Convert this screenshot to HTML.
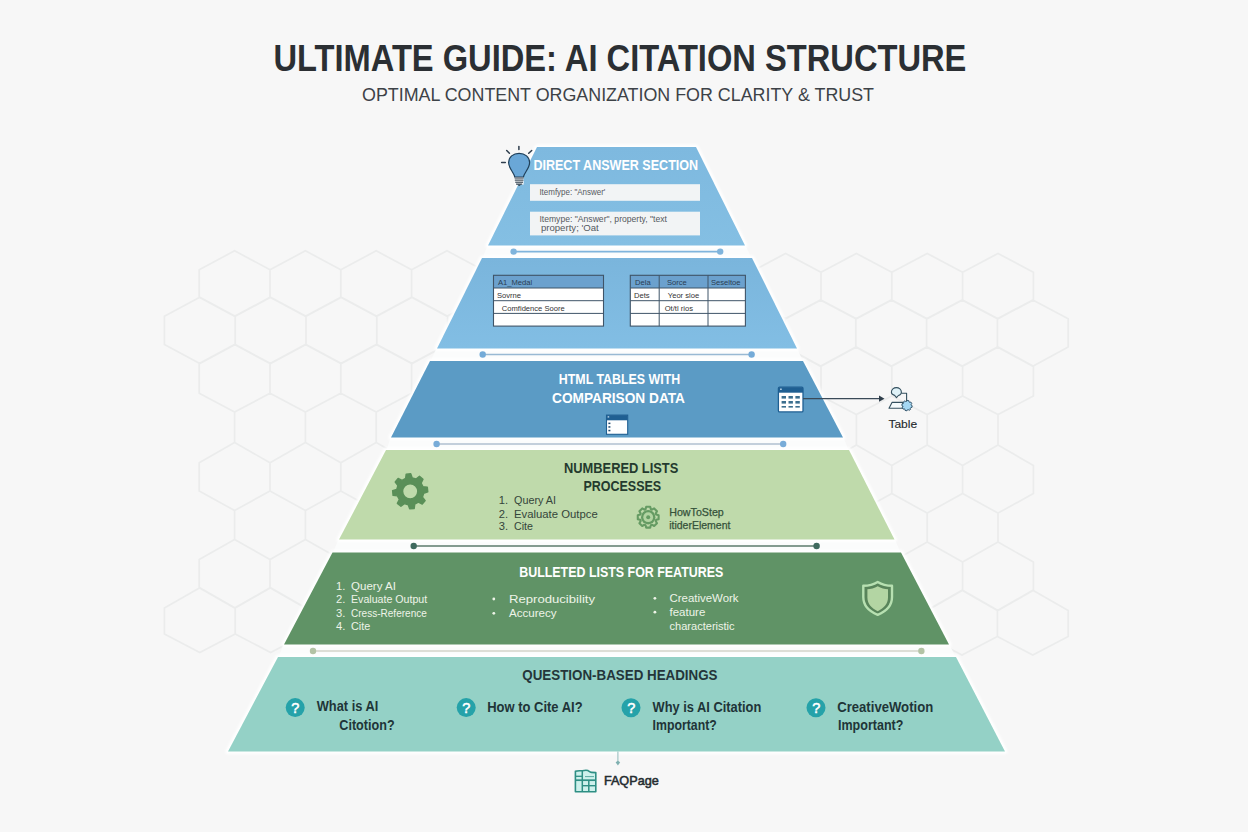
<!DOCTYPE html>
<html><head><meta charset="utf-8"><title>Ultimate Guide: AI Citation Structure</title>
<style>
html,body{margin:0;padding:0;background:#f7f7f7;}
body{width:1248px;height:832px;overflow:hidden;font-family:"Liberation Sans", sans-serif;}
svg{display:block;}
text{font-family:"Liberation Sans", sans-serif;}
</style></head><body>
<svg width="1248" height="832" viewBox="0 0 1248 832">
<defs>
<linearGradient id="g1" x1="0" y1="0" x2="0" y2="1">
<stop offset="0" stop-color="#7eb9df"/><stop offset="1" stop-color="#84bfe3"/></linearGradient>
<linearGradient id="g2" x1="0" y1="0" x2="0" y2="1">
<stop offset="0" stop-color="#7ab5dc"/><stop offset="1" stop-color="#82bee4"/></linearGradient>
<filter id="glow" x="-10%" y="-10%" width="120%" height="120%"><feGaussianBlur stdDeviation="1.2"/></filter>
</defs>
<rect width="1248" height="832" fill="#f7f7f7"/>
<path d="M234.6,250.8L270.0,269.7L270.0,297.3L234.6,316.2L199.2,297.3L199.2,269.7ZM998.0,253.4L1033.4,272.3L1033.4,299.9L998.0,318.8L962.6,299.9L962.6,272.3ZM305.4,250.8L340.8,269.7L340.8,297.3L305.4,316.2L270.0,297.3L270.0,269.7ZM927.2,253.4L962.6,272.3L962.6,299.9L927.2,318.8L891.8,299.9L891.8,272.3ZM376.2,250.8L411.6,269.7L411.6,297.3L376.2,316.2L340.8,297.3L340.8,269.7ZM856.4,253.4L891.8,272.3L891.8,299.9L856.4,318.8L821.0,299.9L821.0,272.3ZM447.0,250.8L482.4,269.7L482.4,297.3L447.0,316.2L411.6,297.3L411.6,269.7ZM785.6,253.4L821.0,272.3L821.0,299.9L785.6,318.8L750.2,299.9L750.2,272.3ZM517.8,250.8L553.2,269.7L553.2,297.3L517.8,316.2L482.4,297.3L482.4,269.7ZM714.8,253.4L750.2,272.3L750.2,299.9L714.8,318.8L679.4,299.9L679.4,272.3ZM588.6,250.8L624.0,269.7L624.0,297.3L588.6,316.2L553.2,297.3L553.2,269.7ZM644.0,253.4L679.4,272.3L679.4,299.9L644.0,318.8L608.6,299.9L608.6,272.3ZM199.8,297.3L235.2,316.2L235.2,344.5L199.8,363.6L164.4,344.5L164.4,316.2ZM1032.8,299.9L1068.2,318.8L1068.2,347.1L1032.8,366.2L997.4,347.1L997.4,318.8ZM270.6,297.3L306.0,316.2L306.0,344.5L270.6,363.6L235.2,344.5L235.2,316.2ZM962.0,299.9L997.4,318.8L997.4,347.1L962.0,366.2L926.6,347.1L926.6,318.8ZM341.4,297.3L376.8,316.2L376.8,344.5L341.4,363.6L306.0,344.5L306.0,316.2ZM891.2,299.9L926.6,318.8L926.6,347.1L891.2,366.2L855.8,347.1L855.8,318.8ZM412.2,297.3L447.6,316.2L447.6,344.5L412.2,363.6L376.8,344.5L376.8,316.2ZM820.4,299.9L855.8,318.8L855.8,347.1L820.4,366.2L785.0,347.1L785.0,318.8ZM483.0,297.3L518.4,316.2L518.4,344.5L483.0,363.6L447.6,344.5L447.6,316.2ZM749.6,299.9L785.0,318.8L785.0,347.1L749.6,366.2L714.2,347.1L714.2,318.8ZM553.8,297.3L589.2,316.2L589.2,344.5L553.8,363.6L518.4,344.5L518.4,316.2ZM678.8,299.9L714.2,318.8L714.2,347.1L678.8,366.2L643.4,347.1L643.4,318.8ZM234.6,344.5L270.0,363.6L270.0,393.3L234.6,412.0L199.2,393.3L199.2,363.6ZM998.0,347.1L1033.4,366.2L1033.4,395.9L998.0,414.6L962.6,395.9L962.6,366.2ZM305.4,344.5L340.8,363.6L340.8,393.3L305.4,412.0L270.0,393.3L270.0,363.6ZM927.2,347.1L962.6,366.2L962.6,395.9L927.2,414.6L891.8,395.9L891.8,366.2ZM376.2,344.5L411.6,363.6L411.6,393.3L376.2,412.0L340.8,393.3L340.8,363.6ZM856.4,347.1L891.8,366.2L891.8,395.9L856.4,414.6L821.0,395.9L821.0,366.2ZM447.0,344.5L482.4,363.6L482.4,393.3L447.0,412.0L411.6,393.3L411.6,363.6ZM785.6,347.1L821.0,366.2L821.0,395.9L785.6,414.6L750.2,395.9L750.2,366.2ZM517.8,344.5L553.2,363.6L553.2,393.3L517.8,412.0L482.4,393.3L482.4,363.6ZM714.8,347.1L750.2,366.2L750.2,395.9L714.8,414.6L679.4,395.9L679.4,366.2ZM588.6,344.5L624.0,363.6L624.0,393.3L588.6,412.0L553.2,393.3L553.2,363.6ZM644.0,347.1L679.4,366.2L679.4,395.9L644.0,414.6L608.6,395.9L608.6,366.2ZM270.0,393.3L305.4,412.0L305.4,442.5L270.0,462.8L234.6,442.5L234.6,412.0ZM962.6,395.9L998.0,414.6L998.0,445.1L962.6,465.4L927.2,445.1L927.2,414.6ZM340.8,393.3L376.2,412.0L376.2,442.5L340.8,462.8L305.4,442.5L305.4,412.0ZM891.8,395.9L927.2,414.6L927.2,445.1L891.8,465.4L856.4,445.1L856.4,414.6ZM411.6,393.3L447.0,412.0L447.0,442.5L411.6,462.8L376.2,442.5L376.2,412.0ZM821.0,395.9L856.4,414.6L856.4,445.1L821.0,465.4L785.6,445.1L785.6,414.6ZM482.4,393.3L517.8,412.0L517.8,442.5L482.4,462.8L447.0,442.5L447.0,412.0ZM750.2,395.9L785.6,414.6L785.6,445.1L750.2,465.4L714.8,445.1L714.8,414.6ZM553.2,393.3L588.6,412.0L588.6,442.5L553.2,462.8L517.8,442.5L517.8,412.0ZM679.4,395.9L714.8,414.6L714.8,445.1L679.4,465.4L644.0,445.1L644.0,414.6ZM234.6,442.5L270.0,462.8L270.0,491.0L234.6,510.5L199.2,491.0L199.2,462.8ZM998.0,445.1L1033.4,465.4L1033.4,493.6L998.0,513.1L962.6,493.6L962.6,465.4ZM305.4,442.5L340.8,462.8L340.8,491.0L305.4,510.5L270.0,491.0L270.0,462.8ZM927.2,445.1L962.6,465.4L962.6,493.6L927.2,513.1L891.8,493.6L891.8,465.4ZM376.2,442.5L411.6,462.8L411.6,491.0L376.2,510.5L340.8,491.0L340.8,462.8ZM856.4,445.1L891.8,465.4L891.8,493.6L856.4,513.1L821.0,493.6L821.0,465.4ZM447.0,442.5L482.4,462.8L482.4,491.0L447.0,510.5L411.6,491.0L411.6,462.8ZM785.6,445.1L821.0,465.4L821.0,493.6L785.6,513.1L750.2,493.6L750.2,465.4ZM517.8,442.5L553.2,462.8L553.2,491.0L517.8,510.5L482.4,491.0L482.4,462.8ZM714.8,445.1L750.2,465.4L750.2,493.6L714.8,513.1L679.4,493.6L679.4,465.4ZM588.6,442.5L624.0,462.8L624.0,491.0L588.6,510.5L553.2,491.0L553.2,462.8ZM644.0,445.1L679.4,465.4L679.4,493.6L644.0,513.1L608.6,493.6L608.6,465.4ZM270.0,491.0L305.4,510.5L305.4,539.4L270.0,559.5L234.6,539.4L234.6,510.5ZM962.6,493.6L998.0,513.1L998.0,542.0L962.6,562.1L927.2,542.0L927.2,513.1ZM340.8,491.0L376.2,510.5L376.2,539.4L340.8,559.5L305.4,539.4L305.4,510.5ZM891.8,493.6L927.2,513.1L927.2,542.0L891.8,562.1L856.4,542.0L856.4,513.1ZM411.6,491.0L447.0,510.5L447.0,539.4L411.6,559.5L376.2,539.4L376.2,510.5ZM821.0,493.6L856.4,513.1L856.4,542.0L821.0,562.1L785.6,542.0L785.6,513.1ZM482.4,491.0L517.8,510.5L517.8,539.4L482.4,559.5L447.0,539.4L447.0,510.5ZM750.2,493.6L785.6,513.1L785.6,542.0L750.2,562.1L714.8,542.0L714.8,513.1ZM553.2,491.0L588.6,510.5L588.6,539.4L553.2,559.5L517.8,539.4L517.8,510.5ZM679.4,493.6L714.8,513.1L714.8,542.0L679.4,562.1L644.0,542.0L644.0,513.1ZM234.6,539.4L270.0,559.5L270.0,587.7L234.6,608.0L199.2,587.7L199.2,559.5ZM998.0,542.0L1033.4,562.1L1033.4,590.3L998.0,610.6L962.6,590.3L962.6,562.1ZM305.4,539.4L340.8,559.5L340.8,587.7L305.4,608.0L270.0,587.7L270.0,559.5ZM927.2,542.0L962.6,562.1L962.6,590.3L927.2,610.6L891.8,590.3L891.8,562.1ZM376.2,539.4L411.6,559.5L411.6,587.7L376.2,608.0L340.8,587.7L340.8,559.5ZM856.4,542.0L891.8,562.1L891.8,590.3L856.4,610.6L821.0,590.3L821.0,562.1ZM447.0,539.4L482.4,559.5L482.4,587.7L447.0,608.0L411.6,587.7L411.6,559.5ZM785.6,542.0L821.0,562.1L821.0,590.3L785.6,610.6L750.2,590.3L750.2,562.1ZM517.8,539.4L553.2,559.5L553.2,587.7L517.8,608.0L482.4,587.7L482.4,559.5ZM714.8,542.0L750.2,562.1L750.2,590.3L714.8,610.6L679.4,590.3L679.4,562.1ZM588.6,539.4L624.0,559.5L624.0,587.7L588.6,608.0L553.2,587.7L553.2,559.5ZM644.0,542.0L679.4,562.1L679.4,590.3L644.0,610.6L608.6,590.3L608.6,562.1ZM199.8,587.7L235.2,608.0L235.2,634.0L199.8,652.5L164.4,634.0L164.4,608.0ZM1032.8,590.3L1068.2,610.6L1068.2,636.6L1032.8,655.1L997.4,636.6L997.4,610.6ZM270.6,587.7L306.0,608.0L306.0,634.0L270.6,652.5L235.2,634.0L235.2,608.0ZM962.0,590.3L997.4,610.6L997.4,636.6L962.0,655.1L926.6,636.6L926.6,610.6ZM341.4,587.7L376.8,608.0L376.8,634.0L341.4,652.5L306.0,634.0L306.0,608.0ZM891.2,590.3L926.6,610.6L926.6,636.6L891.2,655.1L855.8,636.6L855.8,610.6ZM412.2,587.7L447.6,608.0L447.6,634.0L412.2,652.5L376.8,634.0L376.8,608.0ZM820.4,590.3L855.8,610.6L855.8,636.6L820.4,655.1L785.0,636.6L785.0,610.6ZM483.0,587.7L518.4,608.0L518.4,634.0L483.0,652.5L447.6,634.0L447.6,608.0ZM749.6,590.3L785.0,610.6L785.0,636.6L749.6,655.1L714.2,636.6L714.2,610.6ZM553.8,587.7L589.2,608.0L589.2,634.0L553.8,652.5L518.4,634.0L518.4,608.0ZM678.8,590.3L714.2,610.6L714.2,636.6L678.8,655.1L643.4,636.6L643.4,610.6Z" fill="none" stroke="#ebecec" stroke-width="1.7"/>

<polygon points="488.0,244.5 745.0,244.5 752.0,259.0 482.0,259.0" fill="#fbfcfc"/>
<polygon points="437.0,347.4 797.0,347.4 803.0,362.0 430.0,362.0" fill="#fbfcfc"/>
<polygon points="391.0,436.5 843.0,436.5 849.0,451.0 386.0,451.0" fill="#fbfcfc"/>
<polygon points="339.0,538.6 894.5,538.6 901.0,553.5 332.5,553.5" fill="#fbfcfc"/>
<polygon points="284.0,643.4 949.0,643.4 956.0,658.0 278.0,658.0" fill="#fbfcfc"/>
<g filter="url(#glow)">
<polygon points="537.0,147.0 696.0,147.0 745.0,245.5 488.0,245.5" fill="#ffffff" stroke="#ffffff" stroke-width="5" stroke-linejoin="round"/>
<polygon points="482.0,258.0 752.0,258.0 797.0,348.4 437.0,348.4" fill="#ffffff" stroke="#ffffff" stroke-width="5" stroke-linejoin="round"/>
<polygon points="430.0,361.0 803.0,361.0 843.0,437.5 391.0,437.5" fill="#ffffff" stroke="#ffffff" stroke-width="5" stroke-linejoin="round"/>
<polygon points="386.0,450.0 849.0,450.0 894.5,539.6 339.0,539.6" fill="#ffffff" stroke="#ffffff" stroke-width="5" stroke-linejoin="round"/>
<polygon points="332.5,552.5 901.0,552.5 949.0,644.4 284.0,644.4" fill="#ffffff" stroke="#ffffff" stroke-width="5" stroke-linejoin="round"/>
<polygon points="278.0,657.0 956.0,657.0 1005.0,751.5 228.0,751.5" fill="#ffffff" stroke="#ffffff" stroke-width="5" stroke-linejoin="round"/>
</g>
<polygon points="537.0,147.0 696.0,147.0 745.0,245.5 488.0,245.5" fill="url(#g1)"/>
<polygon points="482.0,258.0 752.0,258.0 797.0,348.4 437.0,348.4" fill="url(#g2)"/>
<polygon points="430.0,361.0 803.0,361.0 843.0,437.5 391.0,437.5" fill="#5b9bc5"/>
<polygon points="386.0,450.0 849.0,450.0 894.5,539.6 339.0,539.6" fill="#bfdaab"/>
<polygon points="332.5,552.5 901.0,552.5 949.0,644.4 284.0,644.4" fill="#609366"/>
<polygon points="278.0,657.0 956.0,657.0 1005.0,751.5 228.0,751.5" fill="#94d1c6"/>
<line x1="513.6" y1="251.6" x2="720.2" y2="251.6" stroke="#7fb4dc" stroke-width="1.6"/>
<circle cx="513.6" cy="251.6" r="3.2" fill="#7fb4dc"/><circle cx="720.2" cy="251.6" r="3.2" fill="#7fb4dc"/>
<line x1="482.7" y1="354.5" x2="751.6" y2="354.5" stroke="#98b9d3" stroke-width="1.6"/>
<circle cx="482.7" cy="354.5" r="3.2" fill="#74abd8"/><circle cx="751.6" cy="354.5" r="3.2" fill="#74abd8"/>
<line x1="436.6" y1="444.0" x2="783.2" y2="444.0" stroke="#b0c1d0" stroke-width="1.6"/>
<circle cx="436.6" cy="444.0" r="3.2" fill="#78acd8"/><circle cx="783.2" cy="444.0" r="3.2" fill="#78acd8"/>
<line x1="413.7" y1="546.0" x2="816.6" y2="546.0" stroke="#5d7b6c" stroke-width="1.6"/>
<circle cx="413.7" cy="546.0" r="3.2" fill="#3f6a5e"/><circle cx="816.6" cy="546.0" r="3.2" fill="#3f6a5e"/>
<line x1="313.0" y1="651.0" x2="921.4" y2="651.0" stroke="#d3d5ca" stroke-width="1.6"/>
<circle cx="313.0" cy="651.0" r="3.2" fill="#b3c3a5"/><circle cx="921.4" cy="651.0" r="3.2" fill="#b3c3a5"/>
<text x="273.4" y="70.9" font-size="36.4" font-weight="bold" fill="#2b2f33" stroke="#f7f7f7" stroke-width="0.5" paint-order="stroke" textLength="693" lengthAdjust="spacingAndGlyphs">ULTIMATE GUIDE: AI CITATION STRUCTURE</text>
<text x="362" y="100.8" font-size="18.6" fill="#3d4247" textLength="512" lengthAdjust="spacingAndGlyphs">OPTIMAL CONTENT ORGANIZATION FOR CLARITY &amp; TRUST</text>
<text x="533.4" y="170.2" font-size="14.2" font-weight="bold" fill="#ffffff" textLength="164.7" lengthAdjust="spacingAndGlyphs" stroke="#7fbadf" stroke-width="0.6" paint-order="stroke">DIRECT ANSWER SECTION</text>
<rect x="530" y="184.2" width="170" height="16.6" fill="#f2f4f5"/>
<rect x="530" y="211.7" width="170" height="23.7" fill="#f2f4f5"/>
<text x="539.4" y="195.2" font-size="8.6" fill="#55595e" textLength="66" lengthAdjust="spacingAndGlyphs">Itemfype: "Answer'</text>
<text x="539.4" y="221.7" font-size="8.6" fill="#55595e" textLength="127.6" lengthAdjust="spacingAndGlyphs">Itemype: "Answer", property, "text</text>
<text x="540.9" y="230.8" font-size="8.6" fill="#55595e" textLength="57.9" lengthAdjust="spacingAndGlyphs">property; 'Oat</text>
<g stroke="#2f3e4d" stroke-linecap="round" stroke-width="1.5">
<line x1="518.9" y1="146.4" x2="518.9" y2="149.6"/>
<line x1="506.7" y1="150.5" x2="509.4" y2="153.3"/>
<line x1="531.7" y1="150.5" x2="528.7" y2="153.3"/>
<line x1="501.6" y1="162.5" x2="505.3" y2="162.5"/>
</g>
<path d="M514.8,177.2 C514,172.5 508.6,168.5 508.6,162.5 C508.6,157.2 513.2,153.3 519.1,153.3 C525,153.3 529.6,157.2 529.6,162.5 C529.6,168.5 524.2,172.5 523.4,177.2 Z" fill="#6aa7d7" stroke="#20405a" stroke-width="1.2"/>
<rect x="514.6" y="177.2" width="9" height="7.4" fill="#ffffff"/><g stroke="#2a3a48" stroke-width="1.1"><line x1="514.6" y1="178" x2="523.6" y2="178"/><line x1="514.8" y1="180.1" x2="523.4" y2="180.1"/><line x1="515.2" y1="182.2" x2="523" y2="182.2"/><line x1="516" y1="184.1" x2="522.2" y2="184.1"/></g>
<path d="M517,184.6 L521.4,184.6 L519.2,185.9 Z" fill="#2a3a48"/>

<rect x="493.5" y="275.3" width="110.0" height="12.7" fill="#6ba1ce"/><rect x="493.5" y="288.0" width="110.0" height="38.099999999999994" fill="#ffffff"/><line x1="493.5" y1="288.0" x2="603.5" y2="288.0" stroke="#3f5468" stroke-width="1"/><line x1="493.5" y1="300.7" x2="603.5" y2="300.7" stroke="#3f5468" stroke-width="1"/><line x1="493.5" y1="313.4" x2="603.5" y2="313.4" stroke="#3f5468" stroke-width="1"/><rect x="493.5" y="275.3" width="110.0" height="50.8" fill="none" stroke="#3f5468" stroke-width="1.1"/><text x="497.9" y="285.0" font-size="7.6" fill="#2a3d52">A1_Medal</text><text x="497.0" y="297.8" font-size="7.6" fill="#333">Sovrne</text><text x="501.8" y="310.5" font-size="7.6" fill="#333">Comfidence Soore</text>
<rect x="630.3" y="275.3" width="115.10000000000002" height="12.7" fill="#6ba1ce"/><rect x="630.3" y="288.0" width="115.10000000000002" height="38.099999999999994" fill="#ffffff"/><line x1="630.3" y1="288.0" x2="745.4" y2="288.0" stroke="#3f5468" stroke-width="1"/><line x1="630.3" y1="300.7" x2="745.4" y2="300.7" stroke="#3f5468" stroke-width="1"/><line x1="630.3" y1="313.4" x2="745.4" y2="313.4" stroke="#3f5468" stroke-width="1"/><line x1="659.2" y1="275.3" x2="659.2" y2="326.1" stroke="#3f5468" stroke-width="1"/><line x1="708.0" y1="275.3" x2="708.0" y2="326.1" stroke="#3f5468" stroke-width="1"/><rect x="630.3" y="275.3" width="115.10000000000002" height="50.8" fill="none" stroke="#3f5468" stroke-width="1.1"/><text x="635.0" y="285.0" font-size="7.6" fill="#2a3d52">Dela</text><text x="666.9" y="285.0" font-size="7.6" fill="#2a3d52">Sorce</text><text x="711.0" y="285.0" font-size="7.6" fill="#2a3d52">Seseltoe</text><text x="634.0" y="297.8" font-size="7.6" fill="#333">Dets</text><text x="667.8" y="297.8" font-size="7.6" fill="#333">Yeor sloe</text><text x="664.7" y="310.5" font-size="7.6" fill="#333">Ot/tl rios</text>
<text x="558.8" y="384.2" font-size="14.8" font-weight="bold" fill="#ffffff" textLength="121.4" lengthAdjust="spacingAndGlyphs" stroke="#5b9bc5" stroke-width="0.5" paint-order="stroke">HTML TABLES WITH</text>
<text x="552.0" y="402.9" font-size="14.8" font-weight="bold" fill="#ffffff" textLength="133.0" lengthAdjust="spacingAndGlyphs" stroke="#5b9bc5" stroke-width="0.5" paint-order="stroke">COMPARISON DATA</text>
<rect x="606.5" y="415.1" width="21.2" height="19.2" fill="#ffffff" stroke="#1f5f92" stroke-width="1.1"/>
<rect x="606.5" y="415.1" width="21.2" height="5.2" fill="#1f5f92"/>
<rect x="607.6" y="416.3" width="1.6" height="1.2" fill="#cfe3f2"/>
<g fill="#1f4a6e"><rect x="608.4" y="422.6" width="2" height="1.5"/><rect x="608.4" y="426.2" width="2" height="1.5"/><rect x="608.4" y="429.8" width="2" height="1.5"/></g>

<rect x="778.4" y="387.2" width="24.6" height="24.7" rx="1.2" fill="#ffffff" stroke="#1f5f92" stroke-width="1.3"/>
<rect x="778.4" y="387.2" width="24.6" height="5.5" fill="#1f5f92"/>
<rect x="780" y="388.6" width="1.8" height="1.2" fill="#cfe3f2"/>
<g fill="#3c6f8f"><rect x="781.6" y="396" width="4.4" height="2.6"/><rect x="788.5" y="396" width="4.4" height="2.6"/><rect x="795.4" y="396" width="4.4" height="2.6"/>
<rect x="781.6" y="401" width="4.4" height="2.6"/><rect x="788.5" y="401" width="4.4" height="2.6"/><rect x="795.4" y="401" width="4.4" height="2.6"/>
<rect x="781.6" y="406" width="4.4" height="1.6"/><rect x="788.5" y="406" width="4.4" height="1.6"/><rect x="795.4" y="406" width="4.4" height="1.6"/></g>
<line x1="803" y1="398.7" x2="880" y2="398.7" stroke="#3a4a58" stroke-width="1.2"/>
<path d="M884.5,398.7 L879,395.6 L879,401.8 Z" fill="#2f3e4b"/>

<g fill="none" stroke="#34505f" stroke-width="1.1" stroke-linejoin="round">
<path d="M896.5,397.6 L894.6,395.4 C892.6,394.9 891.4,393.6 891.4,392.3 C891.4,389.6 893.7,387.6 896.4,387.6 C899.1,387.6 901.4,389.6 901.4,392.3 C901.4,393.8 900.2,395 898.4,395.5 Z" fill="#dff2f8"/>
<path d="M889,408.2 L892,402.4 L902.8,402.4 L903.4,408.2 Z" fill="#f4fafc"/>
<path d="M901.4,393.2 L906.6,393.2 L906.6,401"/>
</g>

<path d="M906.66,401.31L907.14,400.40L908.90,400.76L908.98,401.78L909.79,402.33L910.77,402.02L911.76,403.52L911.10,404.30L911.29,405.26L912.20,405.74L911.84,407.50L910.82,407.58L910.27,408.39L910.58,409.37L909.08,410.36L908.30,409.70L907.34,409.89L906.86,410.80L905.10,410.44L905.02,409.42L904.21,408.87L903.23,409.18L902.24,407.68L902.90,406.90L902.71,405.94L901.80,405.46L902.16,403.70L903.18,403.62L903.73,402.81L903.42,401.83L904.92,400.84L905.70,401.50Z" fill="#a4d8f4" stroke="#2f5168" stroke-width="1" stroke-linejoin="round"/>
<text x="888.4" y="427.7" font-size="11.8" fill="#24292c" textLength="28.8" lengthAdjust="spacingAndGlyphs" stroke="#24292c" stroke-width="0.12">Table</text>
<text x="564.0" y="473.0" font-size="15.0" font-weight="bold" fill="#243a2e" textLength="114.3" lengthAdjust="spacingAndGlyphs">NUMBERED LISTS</text>
<text x="583.4" y="491.1" font-size="15.0" font-weight="bold" fill="#243a2e" textLength="77.8" lengthAdjust="spacingAndGlyphs">PROCESSES</text>
<path d="M405.63,478.49L406.18,474.17L410.74,473.71L412.13,477.84L416.03,479.01L419.47,476.34L423.02,479.24L421.09,483.15L423.01,486.73L427.33,487.28L427.79,491.84L423.66,493.23L422.49,497.13L425.16,500.57L422.26,504.12L418.35,502.19L414.77,504.11L414.22,508.43L409.66,508.89L408.27,504.76L404.37,503.59L400.93,506.26L397.38,503.36L399.31,499.45L397.39,495.87L393.07,495.32L392.61,490.76L396.74,489.37L397.91,485.47L395.24,482.03L398.14,478.48L402.05,480.41ZM417.80,491.30A7.6,7.6 0 1 0 402.60,491.30A7.6,7.6 0 1 0 417.80,491.30Z" fill="#5a8f58" fill-rule="evenodd" stroke="#5a8f58" stroke-width="1.4" stroke-linejoin="round"/>
<text x="498.8" y="503.9" font-size="11.2" fill="#34453a">1.</text>
<text x="514.0" y="503.9" font-size="11.2" fill="#34453a" textLength="42.0" lengthAdjust="spacingAndGlyphs">Query AI</text>
<text x="498.8" y="517.5" font-size="11.2" fill="#34453a">2.</text>
<text x="514.0" y="517.5" font-size="11.2" fill="#34453a" textLength="83.7" lengthAdjust="spacingAndGlyphs">Evaluate Outpce</text>
<text x="498.8" y="530.3" font-size="11.2" fill="#34453a">3.</text>
<text x="514.0" y="530.3" font-size="11.2" fill="#34453a" textLength="19.0" lengthAdjust="spacingAndGlyphs">Cite</text>
<path d="M645.55,509.23L646.21,506.79L650.19,506.79L650.85,509.23L651.96,509.69L654.16,508.43L656.97,511.24L655.71,513.44L656.17,514.55L658.61,515.21L658.61,519.19L656.17,519.85L655.71,520.96L656.97,523.16L654.16,525.97L651.96,524.71L650.85,525.17L650.19,527.61L646.21,527.61L645.55,525.17L644.44,524.71L642.24,525.97L639.43,523.16L640.69,520.96L640.23,519.85L637.79,519.19L637.79,515.21L640.23,514.55L640.69,513.44L639.43,511.24L642.24,508.43L644.44,509.69Z" fill="none" stroke="#659b63" stroke-width="2.1" stroke-linejoin="round"/>
<circle cx="648.2" cy="517.2" r="7.2" fill="#659b63"/><circle cx="648.2" cy="517.2" r="4.9" fill="#b2d4a2"/><circle cx="648.2" cy="517.2" r="2.0" fill="#659b63"/>
<text x="669.2" y="515.9" font-size="10.9" fill="#35523a" textLength="54.6" lengthAdjust="spacingAndGlyphs" stroke="#35523a" stroke-width="0.25">HowToStep</text>
<text x="669.2" y="528.6" font-size="10.9" fill="#35523a" textLength="61.2" lengthAdjust="spacingAndGlyphs" stroke="#35523a" stroke-width="0.25">itiderElement</text>
<text x="519.2" y="577.0" font-size="15.2" font-weight="bold" fill="#ffffff" textLength="204.1" lengthAdjust="spacingAndGlyphs" stroke="#609366" stroke-width="0.5" paint-order="stroke">BULLETED LISTS FOR FEATURES</text>
<text x="336.1" y="589.9" font-size="11.2" fill="#eef4e8">1.</text>
<text x="351.0" y="589.9" font-size="11.2" fill="#eef4e8" textLength="44.9" lengthAdjust="spacingAndGlyphs">Query AI</text>
<text x="336.1" y="603.1" font-size="11.2" fill="#eef4e8">2.</text>
<text x="351.0" y="603.1" font-size="11.2" fill="#eef4e8" textLength="76.2" lengthAdjust="spacingAndGlyphs">Evaluate Output</text>
<text x="336.1" y="616.7" font-size="11.2" fill="#eef4e8">3.</text>
<text x="351.0" y="616.7" font-size="11.2" fill="#eef4e8" textLength="75.8" lengthAdjust="spacingAndGlyphs">Cress-Reference</text>
<text x="336.1" y="630.3" font-size="11.2" fill="#eef4e8">4.</text>
<text x="351.0" y="630.3" font-size="11.2" fill="#eef4e8" textLength="19.2" lengthAdjust="spacingAndGlyphs">Cite</text>
<circle cx="493.8" cy="599.0" r="1.4" fill="#eef4e8"/>
<text x="509.0" y="602.8" font-size="11.2" fill="#eef4e8" textLength="86.0" lengthAdjust="spacingAndGlyphs">Reproducibility</text>
<circle cx="493.8" cy="613.3" r="1.4" fill="#eef4e8"/>
<text x="509.0" y="617.1" font-size="11.2" fill="#eef4e8" textLength="47.6" lengthAdjust="spacingAndGlyphs">Accurecy</text>
<circle cx="654.9" cy="598.3" r="1.4" fill="#eef4e8"/>
<text x="669.5" y="602.1" font-size="11.2" fill="#eef4e8" textLength="69.1" lengthAdjust="spacingAndGlyphs">CreativeWork</text>
<circle cx="654.9" cy="612.2" r="1.4" fill="#eef4e8"/>
<text x="669.5" y="616.0" font-size="11.2" fill="#eef4e8" textLength="35.8" lengthAdjust="spacingAndGlyphs">feature</text>
<text x="669.5" y="629.7" font-size="11.2" fill="#eef4e8" textLength="65.1" lengthAdjust="spacingAndGlyphs">characteristic</text>
<path d="M877.7,581.9 C873.5,584.6 868.5,585.8 863.3,585.8 L863.3,597 C863.3,605.5 869.5,611.5 877.7,614.8 C885.9,611.5 892,605.5 892,597 L892,585.8 C886.9,585.8 881.9,584.6 877.7,581.9 Z" fill="#58845a" stroke="#b7e0b1" stroke-width="2.4" stroke-linejoin="round"/>
<path d="M877.7,586.2 C874.5,588.1 870.6,589 867.4,589.2 L867.4,597.6 C867.4,604 871.8,608.6 877.7,611.3 C883.6,608.6 888,604 888,597.6 L888,589.2 C884.8,589 880.9,588.1 877.7,586.2 Z" fill="#b3d5a3"/>

<text x="522.3" y="680.3" font-size="15.0" font-weight="bold" fill="#24353a" textLength="195.2" lengthAdjust="spacingAndGlyphs">QUESTION-BASED HEADINGS</text>
<circle cx="295.2" cy="707.6" r="9.5" fill="#25a2a9"/><text x="295.4" y="712.6" font-size="14.5" fill="#ffffff" stroke="#ffffff" stroke-width="0.5" text-anchor="middle">?</text>
<circle cx="466.2" cy="707.6" r="9.5" fill="#25a2a9"/><text x="466.4" y="712.6" font-size="14.5" fill="#ffffff" stroke="#ffffff" stroke-width="0.5" text-anchor="middle">?</text>
<circle cx="631.0" cy="707.8" r="9.5" fill="#25a2a9"/><text x="631.2" y="712.8" font-size="14.5" fill="#ffffff" stroke="#ffffff" stroke-width="0.5" text-anchor="middle">?</text>
<circle cx="816.0" cy="707.8" r="9.5" fill="#25a2a9"/><text x="816.2" y="712.8" font-size="14.5" fill="#ffffff" stroke="#ffffff" stroke-width="0.5" text-anchor="middle">?</text>
<text x="316.7" y="711.3" font-size="14.5" font-weight="bold" fill="#1f3538" textLength="61.6" lengthAdjust="spacingAndGlyphs">What is AI</text>
<text x="339.3" y="729.6" font-size="14.5" font-weight="bold" fill="#1f3538" textLength="55.3" lengthAdjust="spacingAndGlyphs">Citotion?</text>
<text x="487.2" y="711.6" font-size="14.5" font-weight="bold" fill="#1f3538" textLength="95.4" lengthAdjust="spacingAndGlyphs">How to Cite AI?</text>
<text x="652.6" y="711.6" font-size="14.5" font-weight="bold" fill="#1f3538" textLength="108.7" lengthAdjust="spacingAndGlyphs">Why is AI Citation</text>
<text x="652.6" y="729.8" font-size="14.5" font-weight="bold" fill="#1f3538" textLength="64.2" lengthAdjust="spacingAndGlyphs">Important?</text>
<text x="837.2" y="711.6" font-size="14.5" font-weight="bold" fill="#1f3538" textLength="96.0" lengthAdjust="spacingAndGlyphs">CreativeWotion</text>
<text x="838.0" y="729.8" font-size="14.5" font-weight="bold" fill="#1f3538" textLength="65.4" lengthAdjust="spacingAndGlyphs">Important?</text>
<line x1="617.9" y1="751.5" x2="617.9" y2="762.5" stroke="#9cc2c2" stroke-width="1.1"/>
<path d="M615.6,762.2 L617.9,760.8 L620.2,762.2 L617.9,765.4 Z" fill="#7fb0b0"/>
<path d="M575.4,791.8 L575.4,771.2 C577,770.6 579.5,770.6 582.3,770.8 C584.5,770.2 586.5,770 588,770.6 C589.2,771.4 590,772.3 591.5,772.4 L595.8,772.6 L595.8,791.8 Z" fill="#cdf1ec" stroke="#2e8f84" stroke-width="1.6" stroke-linejoin="round"/>
<g stroke="#2e8f84" fill="none">
<line x1="575.4" y1="780.2" x2="595.8" y2="780.2" stroke-width="1.7"/>
<line x1="575.4" y1="776.3" x2="582.3" y2="776.3" stroke-width="1.3"/>
<line x1="582.3" y1="770.8" x2="582.3" y2="791.8" stroke-width="1.5"/>
<line x1="588.8" y1="780.2" x2="588.8" y2="791.8" stroke-width="1.5"/>
<line x1="582.3" y1="785.7" x2="595.8" y2="785.7" stroke-width="1.4"/>
<line x1="585" y1="776.6" x2="594" y2="776.6" stroke-width="1" stroke="#5aa9a0"/>
</g>

<text x="603.9" y="785.1" font-size="12.6" fill="#262d31" textLength="54.9" lengthAdjust="spacingAndGlyphs" stroke="#262d31" stroke-width="0.55">FAQPage</text>
</svg></body></html>
